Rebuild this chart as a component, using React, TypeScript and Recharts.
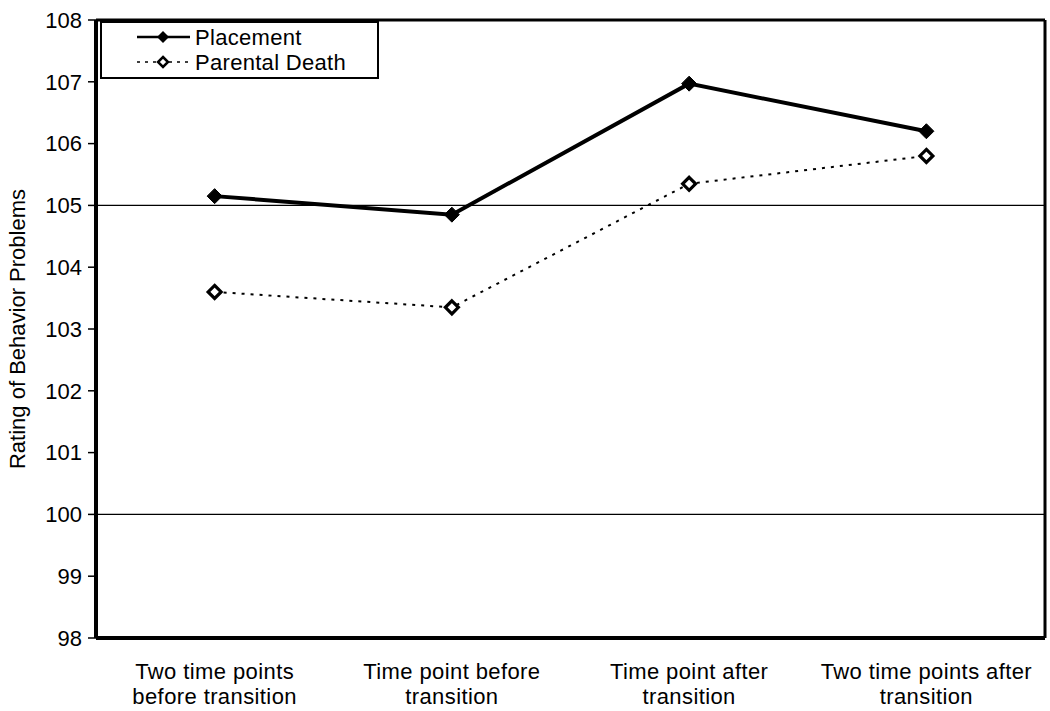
import React from "react";
import {
  LineChart,
  Line,
  XAxis,
  YAxis,
  ReferenceLine,
} from "recharts";

const categories = [
  "Two time points before transition",
  "Time point before transition",
  "Time point after transition",
  "Two time points after transition",
];
const tickLines = [
  ["Two time points", "before transition"],
  ["Time point before", "transition"],
  ["Time point after", "transition"],
  ["Two time points after", "transition"],
];
const placement = [105.15, 104.85, 106.97, 106.2];
const parentalDeath = [103.6, 103.35, 105.35, 105.8];
const yTicks = [98, 99, 100, 101, 102, 103, 104, 105, 106, 107, 108];
const gridValues = [100, 105];
const boundaryTicks = [0, 1, 2, 3, 4];
const seriesNames = ["Placement", "Parental Death"];

const data = categories.map((c, i) => ({
  name: c,
  placement: placement[i],
  parentalDeath: parentalDeath[i],
}));

const FONT = "'Liberation Sans', Arial, sans-serif";

const diamond = (cx: number, cy: number, r: number) =>
  `M${cx},${cy - r} L${cx + r},${cy} L${cx},${cy + r} L${cx - r},${cy} Z`;

const FilledDot = (props: any) => {
  const { cx, cy } = props;
  if (cx == null || cy == null) return null;
  return <path d={diamond(cx, cy, 7.5)} fill="#000" stroke="#000" strokeWidth={1} />;
};

const HollowDot = (props: any) => {
  const { cx, cy } = props;
  if (cx == null || cy == null) return null;
  return <path d={diamond(cx, cy, 6.5)} fill="#fff" stroke="#000" strokeWidth={3.2} />;
};

const XTick = (props: any) => {
  const { x, y, index } = props;
  const lines = tickLines[index] || [];
  return (
    <text x={x} y={y} textAnchor="middle" fontSize={22} letterSpacing={0.4} fontFamily={FONT} fill="#000">
      {lines.map((l, k) => (
        <tspan key={k} x={x} y={y + 34 + k * 25}>
          {l}
        </tspan>
      ))}
    </text>
  );
};

const LegendBox = () => (
  <svg width={280} height={58} style={{ display: "block" }}>
    <rect x={1} y={1} width={277} height={56} fill="#fff" stroke="#000" strokeWidth={2} />
    <line x1={37} x2={90} y1={16} y2={16} stroke="#000" strokeWidth={2.5} />
    <path d={diamond(63, 16, 6)} fill="#000" />
    <text x={95} y={23.5} fontSize={22} letterSpacing={0.3} fontFamily={FONT} fill="#000">
      {seriesNames[0]}
    </text>
    <line x1={37} x2={90} y1={41} y2={41} stroke="#000" strokeWidth={1.5} strokeDasharray="3 5" />
    <path d={diamond(63, 41, 5)} fill="#fff" stroke="#000" strokeWidth={2.5} />
    <text x={95} y={48.5} fontSize={22} letterSpacing={0.3} fontFamily={FONT} fill="#000">
      {seriesNames[1]}
    </text>
  </svg>
);

export default function App() {
  return (
    <div style={{ position: "absolute", left: 0, top: 0, width: 1050, height: 711, background: "#fff" }}>
      <LineChart
        width={1050}
        height={711}
        data={data}
        margin={{ top: 19, right: 4, left: 0, bottom: 0 }}
      >
        <XAxis
          xAxisId="t"
          orientation="top"
          type="number"
          domain={[0, 4]}
          allowDataOverflow
          height={1}
          tick={false}
          tickLine={false}
          axisLine={{ stroke: "#000", strokeWidth: 3 }}
        />
        <XAxis
          xAxisId="a"
          type="number"
          domain={[0, 4]}
          ticks={boundaryTicks}
          allowDataOverflow
          height={1}
          tick={false}
          tickSize={7}
          tickLine={{ stroke: "#000", strokeWidth: 1.5 }}
          axisLine={{ stroke: "#000", strokeWidth: 4 }}
        />
        <XAxis
          xAxisId="b"
          dataKey="name"
          scale="band"
          height={72}
          tickLine={false}
          axisLine={false}
          tick={<XTick />}
          tickMargin={0}
          interval={0}
        />
        <YAxis
          yAxisId="left"
          domain={[98, 108]}
          ticks={yTicks}
          width={96}
          tickSize={8}
          tickMargin={6}
          interval={0}
          tick={{ fontSize: 22, fill: "#000", fontFamily: FONT }}
          tickLine={{ stroke: "#000", strokeWidth: 1.5 }}
          axisLine={{ stroke: "#000", strokeWidth: 4 }}
          label={{
            value: "Rating of Behavior Problems",
            content: (p: any) => {
              const vb = p.viewBox || {};
              const cy = (vb.y || 0) + (vb.height || 0) / 2;
              return (
                <text
                  x={17}
                  y={cy}
                  transform={`rotate(-90, 17, ${cy})`}
                  textAnchor="middle"
                  dominantBaseline="central"
                  fontSize={22}
                  fontFamily={FONT}
                  fill="#000"
                >
                  Rating of Behavior Problems
                </text>
              );
            },
          }}
        />
        <YAxis
          yAxisId="right"
          orientation="right"
          domain={[98, 108]}
          width={1}
          tick={false}
          tickLine={false}
          axisLine={{ stroke: "#000", strokeWidth: 3 }}
        />
        {gridValues.map((v) => (
          <ReferenceLine
            key={v}
            y={v}
            yAxisId="left"
            xAxisId="b"
            stroke="#000"
            strokeWidth={1.2}
          />
        ))}
        <Line
          xAxisId="b"
          yAxisId="left"
          type="linear"
          dataKey="parentalDeath"
          name={seriesNames[1]}
          stroke="#000"
          strokeWidth={2}
          strokeDasharray="3 6"
          dot={<HollowDot />}
          activeDot={false}
          isAnimationActive={false}
        />
        <Line
          xAxisId="b"
          yAxisId="left"
          type="linear"
          dataKey="placement"
          name={seriesNames[0]}
          stroke="#000"
          strokeWidth={4}
          dot={<FilledDot />}
          activeDot={false}
          isAnimationActive={false}
        />
      </LineChart>
      <div style={{ position: "absolute", left: 100, top: 21 }}>
        <LegendBox />
      </div>
    </div>
  );
}
